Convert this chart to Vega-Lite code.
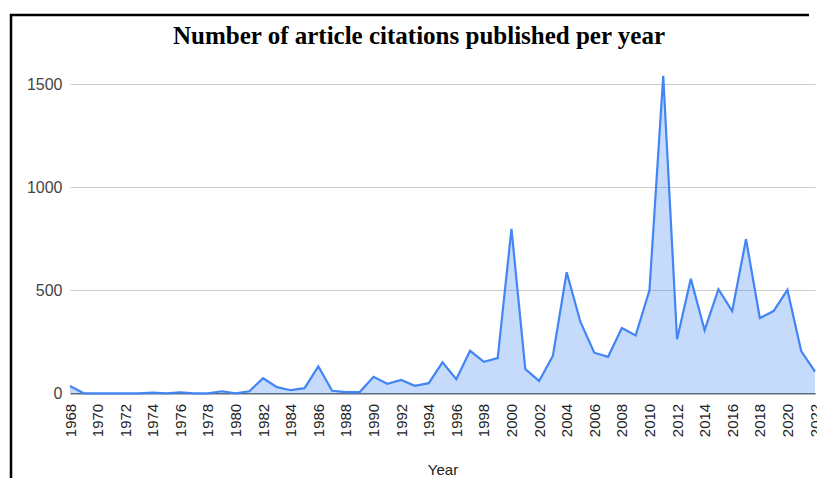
{
  "$schema": "https://vega.github.io/schema/vega-lite/v6.json",
  "autosize": {"type": "none"},
  "padding": {"left": 11, "top": 15, "right": 0, "bottom": 0},
  "width": 806,
  "height": 463,
  "background": "white",
  "title": {
    "text": "Number of article citations published per year",
    "font": "Liberation Serif",
    "fontSize": 25,
    "fontWeight": "bold",
    "color": "#000000",
    "anchor": "middle",
    "baseline": "alphabetic",
    "offset": -54,
    "dx": 5
  },
  "data": {
    "values": [
      {"year": 1968, "citations": 35},
      {"year": 1969, "citations": 0},
      {"year": 1970, "citations": 0},
      {"year": 1971, "citations": 0},
      {"year": 1972, "citations": 0},
      {"year": 1973, "citations": 0},
      {"year": 1974, "citations": 3},
      {"year": 1975, "citations": 0},
      {"year": 1976, "citations": 5},
      {"year": 1977, "citations": 0},
      {"year": 1978, "citations": 0},
      {"year": 1979, "citations": 10},
      {"year": 1980, "citations": 0},
      {"year": 1981, "citations": 10},
      {"year": 1982, "citations": 73},
      {"year": 1983, "citations": 30},
      {"year": 1984, "citations": 15},
      {"year": 1985, "citations": 25},
      {"year": 1986, "citations": 130},
      {"year": 1987, "citations": 12},
      {"year": 1988, "citations": 6},
      {"year": 1989, "citations": 6},
      {"year": 1990, "citations": 80},
      {"year": 1991, "citations": 46},
      {"year": 1992, "citations": 65},
      {"year": 1993, "citations": 36},
      {"year": 1994, "citations": 49},
      {"year": 1995, "citations": 150},
      {"year": 1996, "citations": 68},
      {"year": 1997, "citations": 206},
      {"year": 1998, "citations": 153},
      {"year": 1999, "citations": 171},
      {"year": 2000, "citations": 798},
      {"year": 2001, "citations": 118},
      {"year": 2002, "citations": 60},
      {"year": 2003, "citations": 181},
      {"year": 2004, "citations": 587},
      {"year": 2005, "citations": 346},
      {"year": 2006, "citations": 197},
      {"year": 2007, "citations": 177},
      {"year": 2008, "citations": 317},
      {"year": 2009, "citations": 281},
      {"year": 2010, "citations": 500},
      {"year": 2011, "citations": 1540},
      {"year": 2012, "citations": 262},
      {"year": 2013, "citations": 555},
      {"year": 2014, "citations": 306},
      {"year": 2015, "citations": 505},
      {"year": 2016, "citations": 399},
      {"year": 2017, "citations": 748},
      {"year": 2018, "citations": 365},
      {"year": 2019, "citations": 399},
      {"year": 2020, "citations": 502},
      {"year": 2021, "citations": 205},
      {"year": 2022, "citations": 105}
    ]
  },
  "encoding": {
    "x": {
      "field": "year",
      "type": "quantitative",
      "scale": {"domain": [1968, 2022], "range": [59, 804], "nice": false, "zero": false},
      "axis": {
        "title": "Year",
        "offset": -84.7,
        "values": [1968, 1970, 1972, 1974, 1976, 1978, 1980, 1982, 1984, 1986, 1988, 1990, 1992, 1994, 1996, 1998, 2000, 2002, 2004, 2006, 2008, 2010, 2012, 2014, 2016, 2018, 2020, 2022],
        "format": "d",
        "labelAngle": -90,
        "labelFont": "Liberation Sans",
        "labelFontSize": 15,
        "labelColor": "#222222",
        "labelPadding": 10,
        "labelOverlap": false,
        "labelFlush": false,
        "labelBound": false,
        "ticks": false,
        "grid": false,
        "domain": true,
        "domainColor": "#5f6b7a",
        "domainWidth": 1.5,
        "titleFont": "Liberation Sans",
        "titleFontSize": 15,
        "titleFontWeight": "normal",
        "titleColor": "#222222",
        "titleBaseline": "alphabetic",
        "titleY": 81
      }
    },
    "y": {
      "field": "citations",
      "type": "quantitative",
      "scale": {"domain": [0, 1600], "range": [378.3, 48.4], "nice": false},
      "axis": {
        "title": null,
        "offset": -59,
        "values": [0, 500, 1000, 1500],
        "format": "d",
        "labelFont": "Liberation Sans",
        "labelFontSize": 16,
        "labelColor": "#444444",
        "labelPadding": 8,
        "ticks": false,
        "domain": false,
        "grid": true,
        "gridColor": "#cccccc",
        "gridWidth": 1
      }
    }
  },
  "layer": [
    {"mark": {"type": "area", "color": "#4285F4", "opacity": 0.3}},
    {"mark": {"type": "line", "color": "#4285F4", "strokeWidth": 2.2}}
  ],
  "config": {
    "view": {
      "stroke": "#000000",
      "strokeWidth": 2.5,
      "strokeDash": [798, 1277, 463]
    }
  }
}
